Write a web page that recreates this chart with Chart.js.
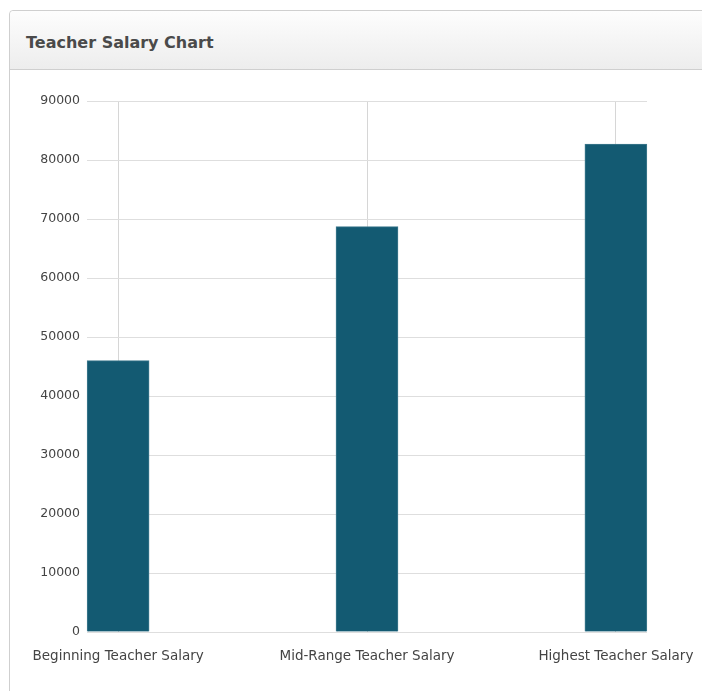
<!DOCTYPE html>
<html>
<head>
<meta charset="utf-8">
<script src="https://cdn.jsdelivr.net/npm/chart.js@4"></script>
<style>
  html, body { margin: 0; padding: 0; background: #fff; overflow: hidden; }
  body { width: 702px; height: 691px; position: relative; }
  .panel {
    position: absolute; left: 9px; top: 10px; width: 760px; height: 720px;
    border: 1px solid #cfcfcf; border-radius: 4px 0 0 0; box-sizing: border-box;
  }
  .panel-head {
    height: 59px; border-bottom: 1px solid #cfcfcf; box-sizing: border-box;
    background: linear-gradient(#fdfdfd, #ededed);
    border-radius: 4px 0 0 0;
    font: bold 16px "DejaVu Sans", sans-serif;
    color: #4a4a4a; padding: 22px 0 0 16px;
  }
  .chart-box { position: absolute; left: 0; top: 70px; width: 702px; height: 621px; }
</style>
</head>
<body>
<div class="panel"><div class="panel-head">Teacher Salary Chart</div></div>
<div class="chart-box"><canvas id="myChart"></canvas></div>
<script>
let categories = ["Beginning Teacher Salary", "Mid-Range Teacher Salary", "Highest Teacher Salary"];
let salaries = [46000, 68700, 82700];
let yTicks = [0, 10000, 20000, 30000, 40000, 50000, 60000, 70000, 80000, 90000];

let family = "'DejaVu Sans', sans-serif";

let myChart = document.getElementById("myChart").getContext("2d");

let barChart = new Chart(myChart, {
    type: "bar",
    data: {
        datasets: [{
            label: "Teacher Salary",
            data: salaries.map((v, i) => ({ x: i, y: v })),
            backgroundColor: "#135a72",
            borderColor: "#3f7a8e",
            borderWidth: 1,
            barThickness: 62,
            clip: false
        }]
    },
    options: {
        responsive: true,
        maintainAspectRatio: false,
        animation: false,
        layout: { padding: { left: 0, right: 55, top: 31, bottom: 0 } },
        plugins: {
            legend: { display: false },
            tooltip: { enabled: false }
        },
        scales: {
            x: {
                type: "linear",
                offset: false,
                min: -0.125,
                max: categories.length - 1 + 0.125,
                grid: { color: "#d6d6d6", drawTicks: false, offset: false },
                border: { display: false },
                ticks: {
                    color: "#444",
                    font: { family: family, size: 13.5 },
                    padding: 16,
                    maxRotation: 0,
                    autoSkip: false,
                    callback: (v) => categories[v]
                },
                afterBuildTicks: function (scale) {
                    scale.ticks = categories.map((c, i) => ({ value: i }));
                },
                afterFit: function (scale) {
                    scale.height = 59;
                    scale.paddingLeft = 0;
                    scale.paddingRight = 0;
                }
            },
            y: {
                min: yTicks[0],
                max: yTicks[yTicks.length - 1],
                grid: { color: "#dedede", drawTicks: false },
                border: { display: false },
                ticks: {
                    color: "#444",
                    font: { family: family, size: 12.5 },
                    padding: 7,
                    stepSize: 10000,
                    callback: (v) => String(v)
                },
                afterBuildTicks: function (scale) {
                    scale.ticks = yTicks.map((v) => ({ value: v }));
                },
                afterFit: function (scale) { scale.width = 87; }
            }
        }
    }
});
</script>
</body>
</html>
